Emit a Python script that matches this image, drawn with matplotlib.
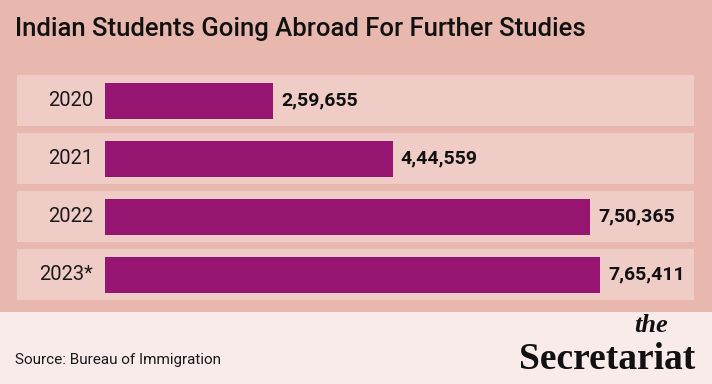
import matplotlib
matplotlib.use("Agg")
import matplotlib.pyplot as plt
from matplotlib.patches import Rectangle

years = ["2020", "2021", "2022", "2023*"]
students = [259655, 444559, 750365, 765411]
value_labels = ["2,59,655", "4,44,559", "7,50,365", "7,65,411"]

title = "Indian Students Going Abroad For Further Studies"
source = "Source: Bureau of Immigration"

bg = "#E8B7AE"
panel = "#EFCDC6"
bar_color = "#961570"
footer = "#F8EBE9"

W, H = 712, 384
fig = plt.figure(figsize=(W / 100, H / 100), dpi=100, facecolor=bg)

# footer band
fig.patches.append(Rectangle((0, 0), 1, 72 / H, transform=fig.transFigure,
                             facecolor=footer, edgecolor="none", zorder=0))

# bar area: panels span x 17..694 px, y 75..300 px
ax = fig.add_axes([17 / W, (H - 300) / H, (694 - 17) / W, 225 / H])
ax.set_facecolor("none")
px = 259655 / 168.0          # data units per pixel
xmin, xmax = -88 * px, 589 * px
ax.set_xlim(xmin, xmax)
pad = 25.5 / 58
ax.set_ylim(len(years) - 1 + pad, -pad)

ypos = range(len(years))
ax.barh(ypos, [xmax - xmin] * len(years), left=xmin, height=51 / 58,
        color=panel, zorder=1)
ax.barh(ypos, students, height=36 / 58, color=bar_color, zorder=2)

for y, yr, v, lab in zip(ypos, years, students, value_labels):
    ax.text(-12 * px, y, yr, ha="right", va="center", fontsize=14.5,
            family="Roboto", color="#1a1a1a", zorder=3)
    ax.text(v + 8 * px, y, lab, ha="left", va="center", fontsize=14,
            family="Roboto", fontweight="bold", color="#111111", zorder=3)

ax.axis("off")

fig.text(15 / W, 1 - 29 / H, title, ha="left", va="center", fontsize=18.5,
         family="Roboto", fontweight="medium", color="#111111")
fig.text(15 / W, 1 - 360 / H, source, ha="left", va="center", fontsize=11,
         family="Roboto", color="#1a1a1a")

# logo
fig.text(695 / W, 1 - 369 / H, "Secretariat", ha="right", va="baseline",
         fontsize=27, family="Liberation Serif", fontweight="bold", color="#111111")
fig.text(668 / W, 1 - 332 / H, "the", ha="right", va="baseline",
         fontsize=19, family="Liberation Serif", style="italic",
         fontweight="bold", color="#111111")

fig.savefig("out.png", dpi=100, facecolor=bg)
